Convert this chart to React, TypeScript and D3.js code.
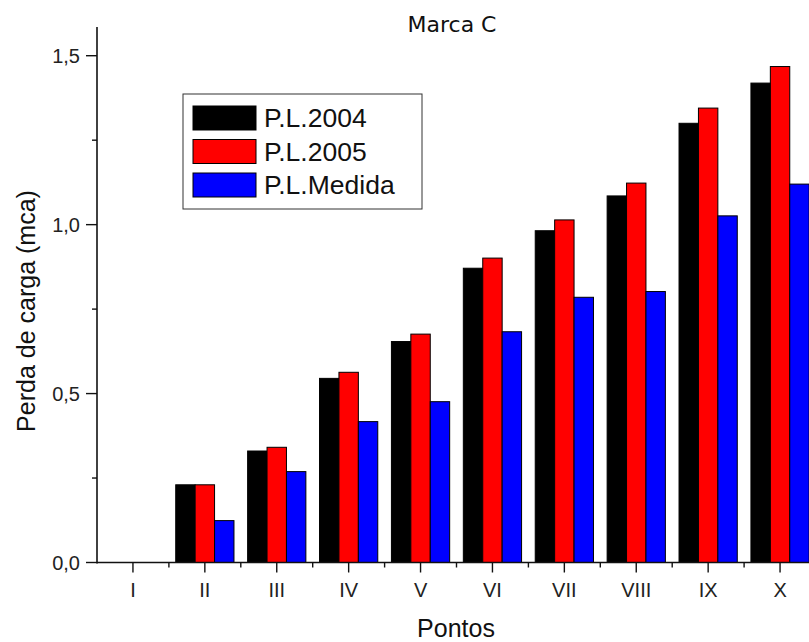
import React from "react";
import * as d3 from "d3";

// Head-loss measurements per point, three series
const categories = ["I", "II", "III", "IV", "V", "VI", "VII", "VIII", "IX", "X"];
const seriesNames = ["P.L.2004", "P.L.2005", "P.L.Medida"];
const pl2004 = [0, 0.23, 0.33, 0.545, 0.654, 0.871, 0.982, 1.085, 1.3, 1.419];
const pl2005 = [0, 0.23, 0.341, 0.563, 0.676, 0.901, 1.014, 1.123, 1.345, 1.468];
const plMedida = [0, 0.124, 0.269, 0.417, 0.476, 0.683, 0.785, 0.802, 1.026, 1.12];
const seriesColors = ["#000000", "#ff0000", "#0000ff"];
const yMajorTicks = [0, 0.5, 1.0, 1.5];
const yMinorTicks = [0.25, 0.75, 1.25];

const W = 809;
const H = 642;
const FONT = "'Liberation Sans', Arial, sans-serif";

export default function App() {
  const values = [pl2004, pl2005, plMedida];
  const left = 97;
  const bottom = 562.5;
  const top = 27;

  const y = d3.scaleLinear().domain([0, 1.585]).range([bottom, top]);
  const x0 = d3.scaleBand<string>().domain(categories).range([left, left + 10 * 71.9]).padding(0);
  const bw = x0.bandwidth();
  const groupW = bw * 0.81;
  const x1 = d3
    .scaleBand<string>()
    .domain(seriesNames)
    .range([(bw - groupW) / 2, (bw + groupW) / 2])
    .padding(0);

  const fmt = (v: number) => d3.format(".1f")(v).replace(".", ",");

  return (
    <svg
      width={W}
      height={H}
      style={{ position: "absolute", left: 0, top: 0, background: "#fff" }}
      fontFamily={FONT}
    >
      <rect x={0} y={0} width={W} height={H} fill="#ffffff" />

      {/* bars */}
      {categories.map((c, i) => (
        <g key={c} transform={`translate(${x0(c)},0)`}>
          {seriesNames.map((s, k) => {
            const v = values[k][i];
            if (v <= 0) return null;
            return (
              <rect
                key={s}
                x={x1(s)}
                y={y(v)}
                width={x1.bandwidth()}
                height={bottom - y(v)}
                fill={seriesColors[k]}
                stroke="#000"
                strokeWidth={1}
              />
            );
          })}
        </g>
      ))}

      {/* y axis */}
      <line x1={left} x2={left} y1={top} y2={bottom + 1} stroke="#111" strokeWidth={1.6} />
      {yMajorTicks.map((t) => (
        <g key={t}>
          <line x1={left - 11} x2={left} y1={y(t)} y2={y(t)} stroke="#111" strokeWidth={1.4} />
          <text
            x={left - 17}
            y={y(t)}
            dy="0.35em"
            textAnchor="end"
            fontSize={20}
            fill="#222"
          >
            {fmt(t)}
          </text>
        </g>
      ))}
      {yMinorTicks.map((t) => (
        <line key={t} x1={left - 5} x2={left} y1={y(t)} y2={y(t)} stroke="#111" strokeWidth={1.4} />
      ))}

      {/* x axis */}
      <line x1={left} x2={W} y1={bottom} y2={bottom} stroke="#111" strokeWidth={1.6} />
      {categories.map((c) => {
        const cx = (x0(c) as number) + bw / 2;
        return (
          <g key={c}>
            <line x1={cx} x2={cx} y1={bottom} y2={bottom + 10} stroke="#111" strokeWidth={1.4} />
            <line
              x1={(x0(c) as number) + bw}
              x2={(x0(c) as number) + bw}
              y1={bottom}
              y2={bottom + 5}
              stroke="#111"
              strokeWidth={1.4}
            />
            <text x={cx} y={597} textAnchor="middle" fontSize={20} fill="#222">
              {c}
            </text>
          </g>
        );
      })}

      {/* axis titles */}
      <text x={456} y={637} textAnchor="middle" fontSize={25} fill="#111">
        Pontos
      </text>
      <text
        transform={`translate(35,311) rotate(-90)`}
        textAnchor="middle"
        fontSize={25}
        fill="#111"
      >
        Perda de carga (mca)
      </text>

      {/* chart title */}
      <text
        x={452}
        y={32}
        textAnchor="middle"
        fontSize={22}
        fontFamily="'DejaVu Sans', Verdana, sans-serif"
        fill="#111"
      >
        Marca C
      </text>

      {/* legend */}
      <g>
        <rect x={183} y={94} width={239} height={115} fill="#fff" stroke="#333" strokeWidth={1} />
        {seriesNames.map((s, k) => (
          <g key={s} transform={`translate(193,${106 + k * 33.5})`}>
            <rect width={63} height={24} fill={seriesColors[k]} stroke="#000" strokeWidth={1} />
            <text x={71} y={21} fontSize={26.5} fill="#111">
              {s}
            </text>
          </g>
        ))}
      </g>
    </svg>
  );
}
